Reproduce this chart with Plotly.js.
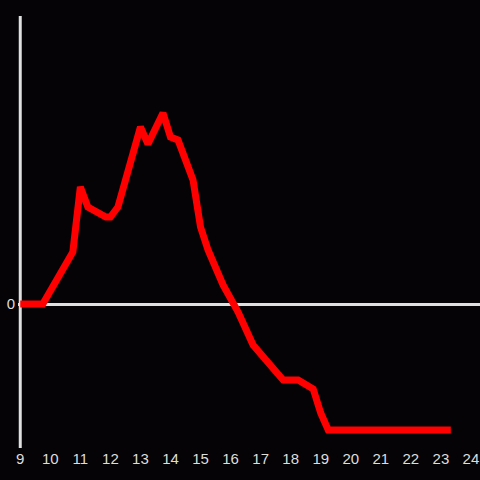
<!DOCTYPE html>
<html>
<head>
<meta charset="utf-8">
<script src="https://cdn.plot.ly/plotly-3.0.1.min.js"></script>
<style>html,body{margin:0;padding:0;background:#050306;}#chart{width:480px;height:480px;}</style>
</head>
<body>
<div id="chart"></div>
<script>
const hours = [9.0, 9.75, 10.75, 11.0, 11.25, 11.85, 12.0, 12.25, 13.0, 13.25, 13.75, 14.0, 14.25, 14.75, 15.0, 15.25, 15.75, 16.25, 16.75, 17.25, 17.75, 18.25, 18.75, 19.0, 19.25, 23.33];
const values = [0, 0, 5.2, 11.7, 9.7, 8.7, 8.7, 9.7, 17.7, 16.0, 19.1, 16.7, 16.4, 12.4, 7.7, 5.4, 1.9, -0.8, -4.1, -5.8, -7.6, -7.6, -8.5, -10.9, -12.6, -12.6];
const xTicks = [9,10,11,12,13,14,15,16,17,18,19,20,21,22,23,24];
const yTicks = [0];
const axisStart = 9;

Plotly.newPlot('chart', [{
  x: hours, y: values, type: 'scatter', mode: 'lines',
  line: {color: '#ff0000', width: 7}, hoverinfo: 'skip'
}], {
  width: 480, height: 480,
  paper_bgcolor: '#050306', plot_bgcolor: '#050306',
  margin: {l: 18, r: 0, t: 16, b: 32},
  showlegend: false,
  font: {family: 'Liberation Sans, Arial, sans-serif', size: 15, color: '#dddddd'},
  xaxis: {range: [8.925, 24.301], tickvals: xTicks, ticktext: xTicks.map(String), ticklabeloverflow: 'allow', showgrid: false, zeroline: false, showline: false, ticks: '', fixedrange: true},
  yaxis: {range: [-14.4, 28.8], tickvals: yTicks, ticktext: ['0'], ticklabeloverflow: 'allow', ticklabelstandoff: 2, showgrid: false, zeroline: true, zerolinecolor: '#e0e0e0', zerolinewidth: 3, showline: false, ticks: '', fixedrange: true},
  shapes: [{type: 'line', xref: 'x', yref: 'paper', x0: axisStart, x1: axisStart, y0: 0, y1: 1, line: {color: '#e0e0e0', width: 3}, layer: 'below'}]
}, {staticPlot: true, displayModeBar: false});
</script>
</body>
</html>
